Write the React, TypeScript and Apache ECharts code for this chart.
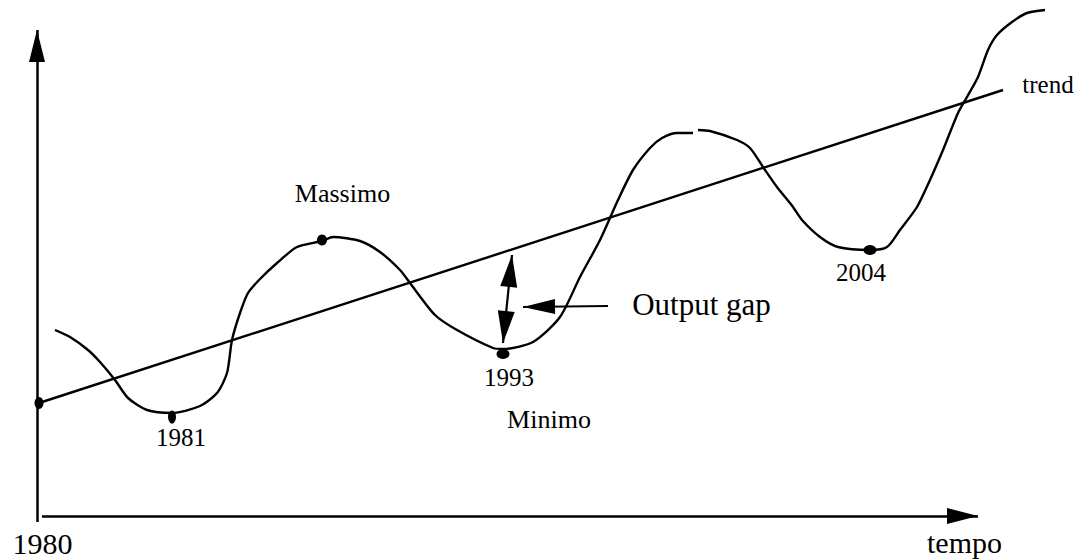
import React, { useEffect, useRef } from "react";
import * as echarts from "echarts";

// Schematic units: x = time (arbitrary), y = output level (arbitrary)
const cycleLeft: [number, number][] = [
  [18, 186], [33, 179], [51, 166], [63, 154], [78, 136], [91, 118], [110, 106], [135, 103],
  [163, 110], [180, 123], [190, 143], [195, 176], [203, 203], [211, 223], [223, 237], [240, 253],
  [260, 269], [285, 275], [296, 279], [323, 275], [343, 264], [363, 246], [373, 233], [398, 201],
  [420, 186], [456, 168], [466, 167], [496, 174], [523, 199], [543, 239], [563, 276], [581, 316],
  [596, 346], [613, 368], [625, 378], [640, 383], [656, 383],
];
const cycleRight: [number, number][] = [
  [661, 386], [673, 385], [700, 376], [713, 368], [726, 349], [740, 329], [756, 309], [765, 296],
  [783, 279], [801, 269], [833, 266], [850, 269], [863, 286], [880, 309], [893, 336], [906, 366],
  [921, 403], [930, 419], [941, 439], [951, 466], [960, 481], [975, 494], [990, 503], [1008, 506],
];
const trendLine: [number, number][] = [[2, 113], [966, 426]];

const turningPoints: [number, number][] = [[2, 113], [135, 99], [285, 276], [466, 162], [833, 266]];
const dotSizes: [number, number][] = [[9, 12], [8, 13], [10, 11], [13, 10], [13, 10]];

const labels = ["1980", "1981", "Massimo", "1993", "Minimo", "Output gap", "2004", "trend", "tempo"];
const labelAnchors: [number, number][] = [
  [5.5, -27], [144, 79], [305.5, 323], [472, 139], [512, 97], [664.5, 211.5], [824, 244], [1011, 431.5], [927.5, -26],
];
const labelFontSizes = [30, 25, 26, 25, 26, 31, 25, 25, 30];

// Axis arrows and output-gap arrows (data coordinates)
const yAxisArrow: [number, number][] = [[0, -6], [0, 486]];
const xAxisArrow: [number, number][] = [[5, 0], [941, 0]];
const gapArrow: [number, number][] = [[466, 173], [475, 261]];
const pointerArrow: [number, number][] = [[571, 210], [486, 209]];

const FONT = "Liberation Serif";

export default function App() {
  const ref = useRef<HTMLDivElement>(null);
  useEffect(() => {
    if (!ref.current) return;
    const chart = echarts.init(ref.current, null, { renderer: "svg" });
    const head = (w: number, h: number) => ({
      symbol: "triangle",
      symbolSize: [w, h],
      symbolOffset: [0, h / 2],
    });
    const none = { symbol: "none" };
    chart.setOption({
      animation: false,
      backgroundColor: "#fff",
      grid: { left: 0, right: 0, top: 0, bottom: 0 },
      xAxis: { type: "value", min: -37, max: 1042, show: false },
      yAxis: { type: "value", min: -43, max: 516, show: false },
      series: [
        {
          type: "line",
          data: trendLine,
          symbol: "none",
          silent: true,
          lineStyle: { color: "#000", width: 2.4 },
          markLine: {
            silent: true,
            label: { show: false },
            emphasis: { disabled: true },
            lineStyle: { color: "#000", width: 2.5, type: "solid", opacity: 1 },
            itemStyle: { color: "#000" },
            data: [
              [{ coord: yAxisArrow[0], ...none }, { coord: yAxisArrow[1], ...head(16, 32) }],
              [{ coord: xAxisArrow[0], ...none }, { coord: xAxisArrow[1], ...head(16, 31) }],
              [
                { coord: gapArrow[0], ...head(17, 32), lineStyle: { width: 2.2 } },
                { coord: gapArrow[1], ...head(17, 32) },
              ],
              [
                { coord: pointerArrow[0], ...none, lineStyle: { width: 2.2 } },
                { coord: pointerArrow[1], ...head(15, 32) },
              ],
            ],
          },
        },
        {
          type: "line",
          data: cycleLeft,
          symbol: "none",
          smooth: 0.25,
          silent: true,
          lineStyle: { color: "#000", width: 2.4 },
        },
        {
          type: "line",
          data: cycleRight,
          symbol: "none",
          smooth: 0.25,
          silent: true,
          lineStyle: { color: "#000", width: 2.4 },
        },
        {
          type: "scatter",
          data: turningPoints,
          silent: true,
          symbol: "circle",
          symbolSize: (_v: any, p: any) => dotSizes[p.dataIndex],
          itemStyle: { color: "#000", opacity: 1 },
        },
        {
          type: "custom",
          data: labelAnchors,
          silent: true,
          renderItem: (params: any, api: any) => {
            const p = api.coord([api.value(0), api.value(1)]);
            return {
              type: "text",
              x: p[0],
              y: p[1],
              style: {
                text: labels[params.dataIndex],
                fontSize: labelFontSizes[params.dataIndex],
                fontFamily: FONT,
                fill: "#000",
                align: "center",
                verticalAlign: "middle",
              },
            };
          },
        },
      ],
    });
    return () => chart.dispose();
  }, []);
  return (
    <div
      ref={ref}
      style={{ position: "fixed", left: 0, top: 0, width: 1079, height: 559, background: "#fff" }}
    />
  );
}
